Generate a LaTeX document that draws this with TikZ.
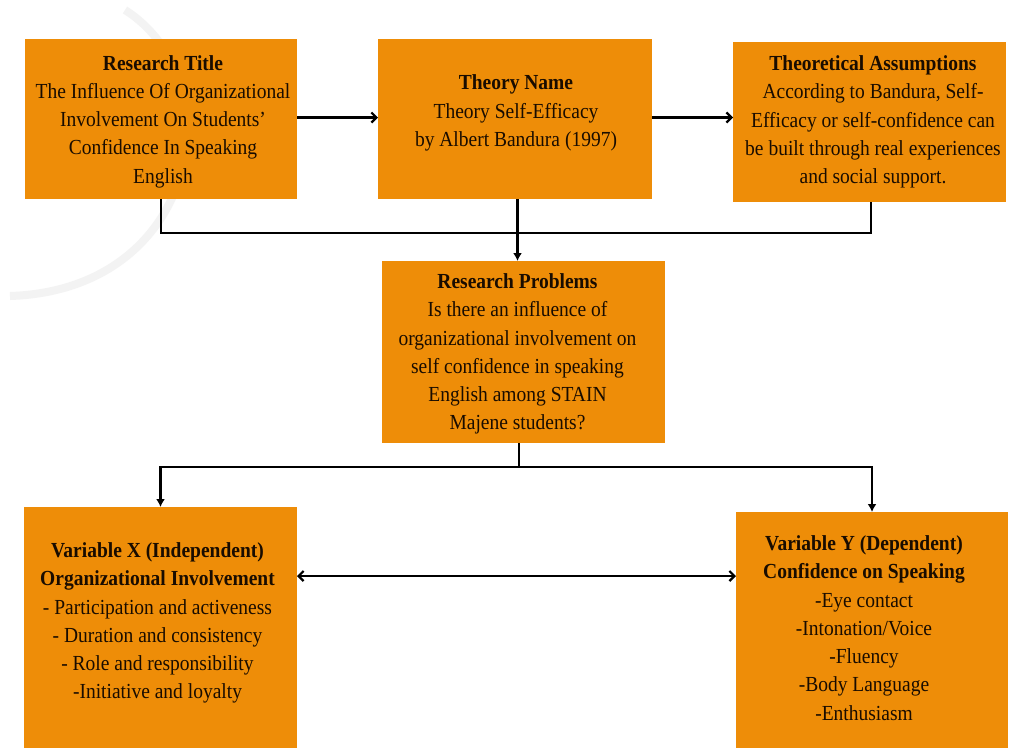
\documentclass[tikz,border=0pt]{standalone}
\usepackage{fontspec}
\setmainfont{Liberation Serif}
\usetikzlibrary{arrows.meta,calc}
\definecolor{boxorange}{RGB}{238,141,8}
\definecolor{textc}{RGB}{25,12,0}
\definecolor{wmark}{RGB}{243,243,243}
\begin{document}
\begin{tikzpicture}[x=1pt,y=1pt,
  box/.style={fill=boxorange, draw=none, inner sep=0, outer sep=0},
  txt/.style={font=\fontsize{19.5}{25.7}\selectfont, align=center, text=textc, inner sep=0, yscale=1.1, transform shape},
  conn/.style={line width=2.2pt, black},
  harrow/.style={conn, -{Straight Barb[length=5pt,width=10pt]}},
  varrow/.style={conn, -{Latex[length=8pt,width=9pt]}},
  darrow/.style={conn, {Straight Barb[length=5pt,width=10pt]}-{Straight Barb[length=5pt,width=10pt]}}
]
\useasboundingbox[fill=white] (0,0) rectangle (1009,-748);
% faint watermark arc
\draw[line width=8pt, wmark] (125,-10) .. controls (235,-80) and (200,-290) .. (10,-296);

% boxes
\node[box, minimum width=272, minimum height=160] (RT) at (161,-119) {};
\node[box, minimum width=274, minimum height=160] (TN) at (515,-119) {};
\node[box, minimum width=273, minimum height=160] (TA) at (869.5,-122) {};
\node[box, minimum width=283, minimum height=182] (RP) at (523.5,-352) {};
\node[box, minimum width=273, minimum height=241] (VX) at (160.5,-627.5) {};
\node[box, minimum width=272, minimum height=236] (VY) at (872,-630) {};

% texts
\node[txt] (tRT) at (163,-121.5) {\textbf{Research Title}\\The Influence Of Organizational\\Involvement On Students’\\Confidence In Speaking\\English};
\node[txt] (tTN) at (516,-113) {\textbf{Theory Name}\\Theory Self-Efficacy\\by Albert Bandura (1997)};
\node[txt] (tTA) at (873,-122) {\textbf{Theoretical Assumptions}\\According to Bandura, Self-\\Efficacy or self-confidence can\\be built through real experiences\\and social support.};
\node[txt] (tRP) at (517.5,-354) {\textbf{Research Problems}\\Is there an influence of\\organizational involvement on\\self confidence in speaking\\English among STAIN\\Majene students?};
\node[txt] (tVX) at (157.5,-623) {\textbf{Variable X (Independent)}\\\textbf{Organizational Involvement}\\- Participation and activeness\\- Duration and consistency\\- Role and responsibility\\-Initiative and loyalty};
\node[txt] (tVY) at (864,-628) {\textbf{Variable Y (Dependent)}\\\textbf{Confidence on Speaking}\\-Eye contact\\-Intonation/Voice\\-Fluency\\-Body Language\\-Enthusiasm};

% connectors
\coordinate (top) at (500,-117.5);
\coordinate (mid) at (500,-576);
\draw[harrow] (RT.east |- top) -- (TN.west |- top);
\draw[harrow] (TN.east |- top) -- (TA.west |- top);
\draw[conn] (RT.south) -- ++(0,-34) -| ([xshift=1.5pt]TA.south);
\draw[varrow] ([xshift=2.5pt]TN.south) -- ([xshift=2.5pt]TN.south |- RP.north);
\draw[varrow] ([xshift=-4.5pt]RP.south) -- ++(0,-24) -| (VX.north);
\draw[varrow] ([xshift=-4.5pt]RP.south) -- ++(0,-24) -| (VY.north);
\draw[darrow] (VX.east |- mid) -- (VY.west |- mid);
\end{tikzpicture}
\end{document}
